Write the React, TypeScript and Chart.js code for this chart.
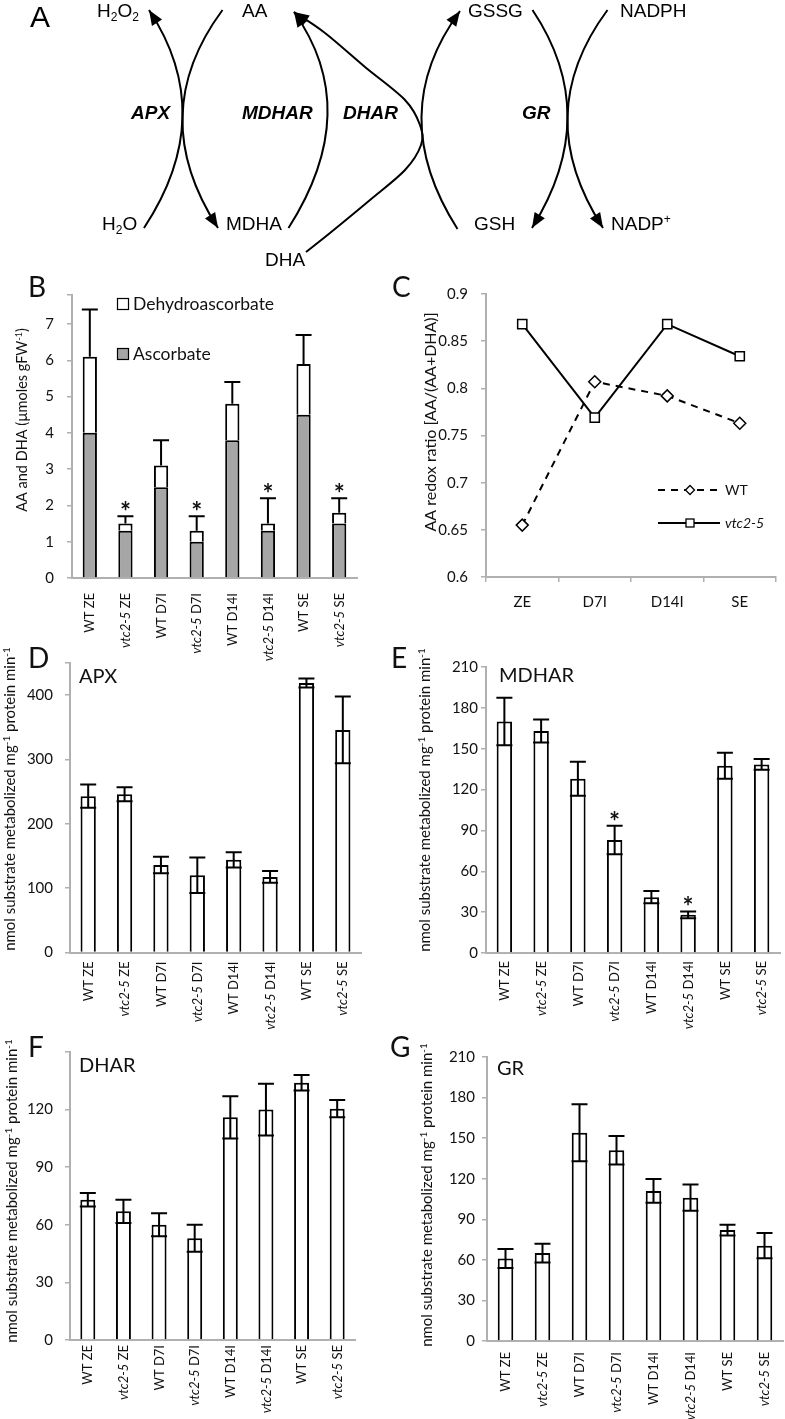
import React, { useEffect, useRef } from 'react';
import { Chart, registerables } from 'chart.js';

Chart.register(...registerables);

const FONT = 'Lato, "Open Sans", sans-serif';
const DIAG_FONT = '"Liberation Sans", Arial, sans-serif';
const AXIS = '#b0b0b0';
const INK = '#111111';

// ---------- data ----------
const sampleLabels = ['WT ZE', 'vtc2-5 ZE', 'WT D7I', 'vtc2-5 D7I', 'WT D14I', 'vtc2-5 D14I', 'WT SE', 'vtc2-5 SE'];

// Panel B
const ascorbate = [4.0, 1.3, 2.5, 1.0, 3.8, 1.3, 4.5, 1.5];
const dehydroascorbate = [2.1, 0.2, 0.6, 0.3, 1.0, 0.2, 1.4, 0.3];
const totalError = [1.3, 0.2, 0.7, 0.4, 0.6, 0.7, 0.8, 0.4];
const totalSig = [false, true, false, true, false, true, false, true];
const bTicks = [0, 1, 2, 3, 4, 5, 6, 7];

// Panel C
const stages = ['ZE', 'D7I', 'D14I', 'SE'];
const wtRedox = [0.655, 0.807, 0.792, 0.763];
const vtcRedox = [0.868, 0.769, 0.868, 0.834];
const cTicks = [0.6, 0.65, 0.7, 0.75, 0.8, 0.85, 0.9];

// Panel D (APX)
const apx = [243, 246, 136, 120, 144, 117.5, 419, 346];
const apxErr = [18, 11, 13, 27.5, 12, 9, 7, 52];
const dTicks = [0, 100, 200, 300, 400];

// Panel E (MDHAR)
const mdhar = [170, 163, 128, 83, 41, 28, 137.5, 138.5];
const mdharErr = [17.5, 8.5, 12.5, 10.5, 4.5, 2.5, 9.5, 4];
const mdharSig = [false, false, false, true, false, true, false, false];
const eTicks = [0, 30, 60, 90, 120, 150, 180, 210];

// Panel F (DHAR)
const dhar = [73, 67, 60, 53, 116, 120, 134, 120.5];
const dharErr = [3.5, 6, 6, 7, 11, 13.5, 4, 4.5];
const fTicks = [0, 30, 60, 90, 120];

// Panel G (GR)
const gr = [61, 65, 154, 141, 111, 106, 82, 70.5];
const grErr = [7, 7, 21, 10.5, 8.7, 9.7, 4, 9.3];
const gTicks = [0, 30, 60, 90, 120, 150, 180, 210];

// ---------- text helpers ----------
type Seg = { t: string; it?: boolean; b?: boolean; sup?: boolean; sub?: boolean };

function segFont(s: Seg, size: number, family: string) {
  const sz = s.sup || s.sub ? Math.round(size * 0.65) : size;
  return `${s.it ? 'italic ' : ''}${s.b ? 'bold ' : ''}${sz}px ${family}`;
}

function drawRich(
  ctx: CanvasRenderingContext2D,
  segs: Seg[],
  x: number,
  y: number,
  size: number,
  family: string,
  align: 'left' | 'center' | 'right',
  rotate: boolean,
  vcenter: boolean
) {
  ctx.save();
  ctx.translate(x, y);
  if (rotate) ctx.rotate(-Math.PI / 2);
  ctx.textAlign = 'left';
  ctx.textBaseline = 'alphabetic';
  const widths = segs.map((s) => {
    ctx.font = segFont(s, size, family);
    return ctx.measureText(s.t).width;
  });
  const total = widths.reduce((a, b) => a + b, 0);
  let cx = align === 'left' ? 0 : align === 'center' ? -total / 2 : -total;
  const base = vcenter ? size * 0.36 : 0;
  segs.forEach((s, i) => {
    ctx.font = segFont(s, size, family);
    const dy = s.sup ? -size * 0.38 : s.sub ? size * 0.22 : 0;
    ctx.fillText(s.t, cx, base + dy);
    cx += widths[i];
  });
  ctx.restore();
}

function labelSegs(label: string): Seg[] {
  if (label.startsWith('vtc2-5')) return [{ t: 'vtc2-5', it: true }, { t: label.slice(6) }];
  return [{ t: label }];
}

const rateTitle: Seg[] = [
  { t: 'nmol substrate metabolized mg' },
  { t: '-1', sup: true },
  { t: ' protein min' },
  { t: '-1', sup: true },
];

// ---------- plugins ----------
type Decor = {
  letter: string;
  letterX: number;
  letterY: number;
  title?: string;
  titleX?: number;
  titleY?: number;
  yTitle: Seg[];
  yTitleX: number;
  yTitleY: number;
  yTitleSize: number;
  xLabels?: string[];
  xLabelGap?: number;
  flatLabels?: string[];
  flatGap?: number;
  extra?: (ctx: CanvasRenderingContext2D, chart: any) => void;
};

function decorPlugin(cfg: Decor) {
  return {
    id: 'decor',
    afterDraw(chart: any) {
      const ctx: CanvasRenderingContext2D = chart.ctx;
      ctx.save();
      ctx.fillStyle = INK;
      ctx.font = `28px ${FONT}`;
      ctx.textAlign = 'left';
      ctx.textBaseline = 'alphabetic';
      ctx.fillText(cfg.letter, cfg.letterX, cfg.letterY);
      if (cfg.title) {
        ctx.font = `20px ${FONT}`;
        ctx.fillText(cfg.title, cfg.titleX!, cfg.titleY!);
      }
      drawRich(ctx, cfg.yTitle, cfg.yTitleX, cfg.yTitleY, cfg.yTitleSize, FONT, 'center', true, true);
      const xs = chart.scales.x;
      if (cfg.xLabels) {
        const yTop = chart.chartArea.bottom + (cfg.xLabelGap ?? 10);
        cfg.xLabels.forEach((l, i) => {
          drawRich(ctx, labelSegs(l), xs.getPixelForValue(i), yTop, 13, FONT, 'right', true, true);
        });
      }
      if (cfg.flatLabels) {
        const yc = chart.chartArea.bottom + (cfg.flatGap ?? 24);
        cfg.flatLabels.forEach((l, i) => {
          drawRich(ctx, [{ t: l }], xs.getPixelForValue(i), yc, 15, FONT, 'center', false, true);
        });
      }
      if (cfg.extra) cfg.extra(ctx, chart);
      ctx.restore();
    },
  };
}

function drawStar(ctx: CanvasRenderingContext2D, x: number, cy: number) {
  ctx.save();
  ctx.font = `bold 26px ${FONT}`;
  ctx.textAlign = 'center';
  ctx.textBaseline = 'alphabetic';
  const m = ctx.measureText('*');
  const base = cy + (m.actualBoundingBoxAscent - m.actualBoundingBoxDescent) / 2;
  ctx.fillStyle = INK;
  ctx.fillText('*', x, base);
  ctx.restore();
}

function errorBarPlugin(values: number[], errs: number[], both: boolean, sig?: boolean[], dsIndex = 0) {
  return {
    id: 'errorBars',
    afterDatasetsDraw(chart: any) {
      const ctx: CanvasRenderingContext2D = chart.ctx;
      const ys = chart.scales.y;
      const meta = chart.getDatasetMeta(dsIndex);
      ctx.save();
      ctx.strokeStyle = '#000';
      ctx.lineWidth = 2;
      meta.data.forEach((el: any, i: number) => {
        const x = el.x;
        const top = ys.getPixelForValue(values[i] + errs[i]);
        const bot = ys.getPixelForValue(both ? values[i] - errs[i] : values[i]);
        const hw = 8;
        ctx.beginPath();
        ctx.moveTo(x, top);
        ctx.lineTo(x, bot);
        ctx.moveTo(x - hw, top);
        ctx.lineTo(x + hw, top);
        if (both) {
          ctx.moveTo(x - hw, bot);
          ctx.lineTo(x + hw, bot);
        }
        ctx.stroke();
        if (sig && sig[i]) drawStar(ctx, x, top - 10);
      });
      ctx.restore();
    },
  };
}

// ---------- scales ----------
function yScale(min: number, max: number, labelVals: number[], width: number, pad: number, stacked = false) {
  const tickVals = labelVals.includes(max) ? labelVals : labelVals.concat([max]);
  return {
    type: 'linear',
    stacked,
    min,
    max,
    afterFit: (s: any) => {
      s.width = width;
    },
    afterBuildTicks: (s: any) => {
      s.ticks = tickVals.map((v) => ({ value: v }));
    },
    ticks: {
      font: { family: FONT, size: 15 },
      color: INK,
      padding: pad,
      autoSkip: false,
      callback: (v: any) => (labelVals.includes(v) ? String(v) : ''),
    },
    grid: { display: true, drawOnChartArea: false, drawTicks: true, tickLength: 5, color: AXIS, lineWidth: 1.5 },
    border: { display: true, color: AXIS, width: 2 },
  };
}

function xBarScale(stacked = false) {
  return {
    type: 'category',
    stacked,
    offset: true,
    grid: { display: false },
    border: { display: true, color: AXIS, width: 2 },
    ticks: { display: false },
    afterFit: (s: any) => {
      s.height = 0;
    },
  };
}

const baseOptions = {
  responsive: false,
  animation: false,
  devicePixelRatio: 1,
};

// ---------- panel builders ----------
function buildA(canvas: HTMLCanvasElement) {
  const diagramText: { segs: Seg[]; x: number; y: number }[] = [
    { segs: [{ t: 'H' }, { t: '2', sub: true }, { t: 'O' }, { t: '2', sub: true }], x: 97, y: 17 },
    { segs: [{ t: 'AA' }], x: 242, y: 17 },
    { segs: [{ t: 'GSSG' }], x: 468, y: 17 },
    { segs: [{ t: 'NADPH' }], x: 620, y: 17 },
    { segs: [{ t: 'APX', it: true, b: true }], x: 131, y: 119 },
    { segs: [{ t: 'MDHAR', it: true, b: true }], x: 242, y: 119 },
    { segs: [{ t: 'DHAR', it: true, b: true }], x: 343, y: 119 },
    { segs: [{ t: 'GR', it: true, b: true }], x: 522, y: 119 },
    { segs: [{ t: 'H' }, { t: '2', sub: true }, { t: 'O' }], x: 102, y: 230 },
    { segs: [{ t: 'MDHA' }], x: 226, y: 230 },
    { segs: [{ t: 'DHA' }], x: 265, y: 266 },
    { segs: [{ t: 'GSH' }], x: 474, y: 230 },
    { segs: [{ t: 'NADP' }, { t: '+', sup: true }], x: 611, y: 230 },
  ];
  // quadratic arcs: start, passing-mid, tip
  const arcs = [
    [144, 228, 182.5, 117, 149, 10],
    [222.5, 10, 182.5, 117, 218, 228],
    [288.5, 228, 327.5, 115, 294, 12],
    [457.5, 229, 421.5, 117, 460, 11],
    [532.5, 10, 567.5, 117, 532, 228],
    [607.5, 10, 567.5, 117, 603, 228],
  ];
  const dharPath = [
    [306, 252], [330, 233], [370, 200], [405, 170], [421, 145], [420, 125], [405, 100], [365, 67], [325, 33], [294, 12],
  ];
  const arrowHead = (ctx: CanvasRenderingContext2D, tx: number, ty: number, fx: number, fy: number) => {
    const dx = tx - fx;
    const dy = ty - fy;
    const L = Math.hypot(dx, dy);
    const ux = dx / L;
    const uy = dy / L;
    const len = 15;
    const hw = 6;
    const bx = tx - ux * len;
    const by = ty - uy * len;
    ctx.beginPath();
    ctx.moveTo(tx, ty);
    ctx.lineTo(bx - uy * hw, by + ux * hw);
    ctx.lineTo(bx + uy * hw, by - ux * hw);
    ctx.closePath();
    ctx.fill();
  };
  const diagram = {
    id: 'diagram',
    afterDraw(chart: any) {
      const ctx: CanvasRenderingContext2D = chart.ctx;
      ctx.save();
      ctx.fillStyle = '#000';
      ctx.strokeStyle = '#000';
      ctx.lineWidth = 2;
      ctx.font = `30px ${DIAG_FONT}`;
      ctx.textBaseline = 'alphabetic';
      ctx.fillText('A', 30, 27);
      diagramText.forEach((d) => drawRich(ctx, d.segs, d.x, d.y, 19, DIAG_FONT, 'left', false, false));
      arcs.forEach(([x0, y0, mx, my, x2, y2]) => {
        const cx = 2 * mx - (x0 + x2) / 2;
        const cy = 2 * my - (y0 + y2) / 2;
        const t = 0.96;
        const ex = (1 - t) * (1 - t) * x0 + 2 * (1 - t) * t * cx + t * t * x2;
        const ey = (1 - t) * (1 - t) * y0 + 2 * (1 - t) * t * cy + t * t * y2;
        ctx.beginPath();
        ctx.moveTo(x0, y0);
        ctx.quadraticCurveTo(cx, cy, x2, y2);
        ctx.stroke();
        arrowHead(ctx, x2, y2, ex, ey);
      });
      ctx.beginPath();
      ctx.moveTo(dharPath[0][0], dharPath[0][1]);
      for (let i = 0; i < dharPath.length - 1; i++) {
        const p0 = dharPath[i - 1] || dharPath[i];
        const p1 = dharPath[i];
        const p2 = dharPath[i + 1];
        const p3 = dharPath[i + 2] || p2;
        ctx.bezierCurveTo(
          p1[0] + (p2[0] - p0[0]) / 6,
          p1[1] + (p2[1] - p0[1]) / 6,
          p2[0] - (p3[0] - p1[0]) / 6,
          p2[1] - (p3[1] - p1[1]) / 6,
          p2[0],
          p2[1]
        );
      }
      ctx.stroke();
      const n = dharPath.length;
      arrowHead(ctx, dharPath[n - 1][0], dharPath[n - 1][1], dharPath[n - 2][0], dharPath[n - 2][1]);
      ctx.restore();
    },
  };
  return new Chart(canvas, {
    type: 'scatter',
    data: { datasets: [] },
    options: {
      ...baseOptions,
      plugins: { legend: { display: false }, tooltip: { enabled: false } },
      scales: { x: { display: false }, y: { display: false } },
    },
    plugins: [diagram],
  } as any);
}

function buildB(canvas: HTMLCanvasElement) {
  const totals = ascorbate.map((a, i) => a + dehydroascorbate[i]);
  const decor = decorPlugin({
    letter: 'B',
    letterX: 28,
    letterY: 25,
    yTitle: [{ t: 'AA and DHA (µmoles gFW' }, { t: '-1', sup: true }, { t: ')' }],
    yTitleX: 22,
    yTitleY: 148,
    yTitleSize: 14.5,
    xLabels: sampleLabels,
    xLabelGap: 15,
    extra: (ctx, chart) => {
      const ds = chart.data.datasets;
      const items = [
        { label: ds[1].label, color: ds[1].backgroundColor, y: 26 },
        { label: ds[0].label, color: ds[0].backgroundColor, y: 76 },
      ];
      items.forEach((it) => {
        ctx.fillStyle = it.color;
        ctx.fillRect(117, it.y, 11, 11);
        ctx.strokeStyle = '#000';
        ctx.lineWidth = 1.2;
        ctx.strokeRect(117.5, it.y + 0.5, 11, 11);
        ctx.fillStyle = INK;
        ctx.font = `17.5px ${FONT}`;
        ctx.textAlign = 'left';
        ctx.textBaseline = 'alphabetic';
        ctx.fillText(it.label, 133, it.y + 12);
      });
    },
  });
  return new Chart(canvas, {
    type: 'bar',
    data: {
      labels: sampleLabels,
      datasets: [
        { label: 'Ascorbate', data: ascorbate, backgroundColor: '#a6a6a6', borderColor: '#000', borderWidth: 2, barPercentage: 0.4, categoryPercentage: 1 },
        { label: 'Dehydroascorbate', data: dehydroascorbate, backgroundColor: '#ffffff', borderColor: '#000', borderWidth: 2, barPercentage: 0.4, categoryPercentage: 1 },
      ],
    },
    options: {
      ...baseOptions,
      layout: { padding: { left: 0, top: 23, right: 35, bottom: 94 } },
      plugins: { legend: { display: false }, tooltip: { enabled: false } },
      scales: { x: xBarScale(true), y: yScale(0, 7.8, bTicks, 72, 13, true) },
    },
    plugins: [errorBarPlugin(totals, totalError, false, totalSig, 1), decor],
  } as any);
}

function buildC(canvas: HTMLCanvasElement) {
  const decor = decorPlugin({
    letter: 'C',
    letterX: 7,
    letterY: 25,
    yTitle: [{ t: 'AA redox ratio [AA/(AA+DHA)]' }],
    yTitleX: 45,
    yTitleY: 150,
    yTitleSize: 16,
    flatLabels: stages,
    flatGap: 25,
    extra: (ctx) => {
      const x0 = 273;
      const x1 = 335;
      const xm = 305;
      ctx.strokeStyle = '#000';
      ctx.lineWidth = 2;
      ctx.setLineDash([7, 6]);
      ctx.beginPath();
      ctx.moveTo(x0, 218);
      ctx.lineTo(x1, 218);
      ctx.stroke();
      ctx.setLineDash([]);
      ctx.lineWidth = 1.3;
      ctx.beginPath();
      ctx.moveTo(xm - 4.5, 218);
      ctx.lineTo(xm, 213.5);
      ctx.lineTo(xm + 4.5, 218);
      ctx.lineTo(xm, 222.5);
      ctx.closePath();
      ctx.fillStyle = '#fff';
      ctx.fill();
      ctx.stroke();
      ctx.lineWidth = 2;
      ctx.beginPath();
      ctx.moveTo(x0, 251);
      ctx.lineTo(x1, 251);
      ctx.stroke();
      ctx.lineWidth = 1.3;
      ctx.fillStyle = '#fff';
      ctx.fillRect(xm - 4, 247, 8, 8);
      ctx.strokeRect(xm - 4, 247, 8, 8);
      ctx.fillStyle = INK;
      ctx.font = `14px ${FONT}`;
      ctx.textAlign = 'left';
      ctx.textBaseline = 'middle';
      ctx.fillText('WT', 340, 218);
      ctx.font = `italic 14px ${FONT}`;
      ctx.fillText('vtc2-5', 340, 251);
    },
  });
  return new Chart(canvas, {
    type: 'line',
    data: {
      labels: stages,
      datasets: [
        {
          label: 'WT',
          data: wtRedox,
          borderColor: '#000',
          borderWidth: 2,
          borderDash: [7, 6],
          pointStyle: 'rectRot',
          pointRadius: 6,
          pointBackgroundColor: '#fff',
          pointBorderColor: '#000',
          pointBorderWidth: 1.5,
          fill: false,
          tension: 0,
        },
        {
          label: 'vtc2-5',
          data: vtcRedox,
          borderColor: '#000',
          borderWidth: 2,
          pointStyle: 'rect',
          pointRadius: 6.5,
          pointBackgroundColor: '#fff',
          pointBorderColor: '#000',
          pointBorderWidth: 1.5,
          fill: false,
          tension: 0,
        },
      ],
    },
    options: {
      ...baseOptions,
      layout: { padding: { left: 0, top: 13, right: 9, bottom: 78 } },
      plugins: { legend: { display: false }, tooltip: { enabled: false } },
      scales: {
        x: {
          type: 'category',
          offset: true,
          grid: { display: true, offset: true, drawOnChartArea: false, drawTicks: true, tickLength: 5, color: AXIS, lineWidth: 1.5 },
          border: { display: true, color: AXIS, width: 2 },
          ticks: { display: false },
          afterFit: (s: any) => {
            s.height = 0;
          },
        },
        y: yScale(0.6, 0.9, cTicks, 101, 13),
      },
    },
    plugins: [decor],
  } as any);
}

function buildEnzyme(
  canvas: HTMLCanvasElement,
  o: {
    letter: string;
    letterX: number;
    letterY: number;
    title: string;
    titleX: number;
    titleY: number;
    yTitleX: number;
    yTitleY: number;
    values: number[];
    errs: number[];
    sig?: boolean[];
    ticks: number[];
    max: number;
    axisWidth: number;
    labelPad: number;
    padding: { left: number; top: number; right: number; bottom: number };
    gap: number;
  }
) {
  const decor = decorPlugin({
    letter: o.letter,
    letterX: o.letterX,
    letterY: o.letterY,
    title: o.title,
    titleX: o.titleX,
    titleY: o.titleY,
    yTitle: rateTitle,
    yTitleX: o.yTitleX,
    yTitleY: o.yTitleY,
    yTitleSize: 15,
    xLabels: sampleLabels,
    xLabelGap: o.gap,
  });
  return new Chart(canvas, {
    type: 'bar',
    data: {
      labels: sampleLabels,
      datasets: [
        { label: o.title, data: o.values, backgroundColor: '#ffffff', borderColor: '#000', borderWidth: 2, barPercentage: 0.42, categoryPercentage: 1 },
      ],
    },
    options: {
      ...baseOptions,
      layout: { padding: o.padding },
      plugins: { legend: { display: false }, tooltip: { enabled: false } },
      scales: { x: xBarScale(false), y: yScale(0, o.max, o.ticks, o.axisWidth, o.labelPad) },
    },
    plugins: [errorBarPlugin(o.values, o.errs, true, o.sig), decor],
  } as any);
}

const buildD = (c: HTMLCanvasElement) =>
  buildEnzyme(c, {
    letter: 'D', letterX: 28, letterY: 36, title: 'APX', titleX: 79, titleY: 51,
    yTitleX: 10, yTitleY: 167, values: apx, errs: apxErr, ticks: dTicks, max: 450,
    axisWidth: 70, labelPad: 12, padding: { left: 0, top: 31, right: 31, bottom: 77.5 }, gap: 9,
  });

const buildE = (c: HTMLCanvasElement) =>
  buildEnzyme(c, {
    letter: 'E', letterX: 6, letterY: 36, title: 'MDHAR', titleX: 114, titleY: 50,
    yTitleX: 40, yTitleY: 168, values: mdhar, errs: mdharErr, sig: mdharSig, ticks: eTicks, max: 210,
    axisWidth: 101, labelPad: 3, padding: { left: 0, top: 35, right: 5, bottom: 77 }, gap: 8,
  });

const buildF = (c: HTMLCanvasElement) =>
  buildEnzyme(c, {
    letter: 'F', letterX: 28, letterY: 27, title: 'DHAR', titleX: 79, titleY: 42,
    yTitleX: 12, yTitleY: 161, values: dhar, errs: dharErr, ticks: fTicks, max: 150,
    axisWidth: 70, labelPad: 12, padding: { left: 0, top: 22, right: 37, bottom: 79 }, gap: 5,
  });

const buildG = (c: HTMLCanvasElement) =>
  buildEnzyme(c, {
    letter: 'G', letterX: 5, letterY: 27, title: 'GR', titleX: 112, titleY: 45,
    yTitleX: 42, yTitleY: 165, values: gr, errs: grErr, ticks: gTicks, max: 210,
    axisWidth: 102, labelPad: 7, padding: { left: 0, top: 27, right: 2, bottom: 78 }, gap: 11,
  });

// ---------- components ----------
function ChartBox(props: { left: number; top: number; width: number; height: number; build: (c: HTMLCanvasElement) => Chart }) {
  const ref = useRef<HTMLCanvasElement>(null);
  useEffect(() => {
    const chart = props.build(ref.current!);
    return () => chart.destroy();
  }, []);
  return (
    <div style={{ position: 'absolute', left: props.left, top: props.top, width: props.width, height: props.height }}>
      <canvas ref={ref} width={props.width} height={props.height} style={{ display: 'block', width: props.width, height: props.height }} />
    </div>
  );
}

export default function App() {
  return (
    <div style={{ position: 'relative', width: 785, height: 1419, background: '#fff', overflow: 'hidden' }}>
      <style>{'html,body{margin:0;padding:0;background:#fff;}'}</style>
      <ChartBox left={0} top={0} width={785} height={272} build={buildA} />
      <ChartBox left={0} top={272} width={392} height={400} build={buildB} />
      <ChartBox left={385} top={272} width={400} height={383} build={buildC} />
      <ChartBox left={0} top={632} width={392} height={398} build={buildD} />
      <ChartBox left={385} top={632} width={400} height={398} build={buildE} />
      <ChartBox left={0} top={1030} width={392} height={389} build={buildF} />
      <ChartBox left={385} top={1030} width={400} height={389} build={buildG} />
    </div>
  );
}
